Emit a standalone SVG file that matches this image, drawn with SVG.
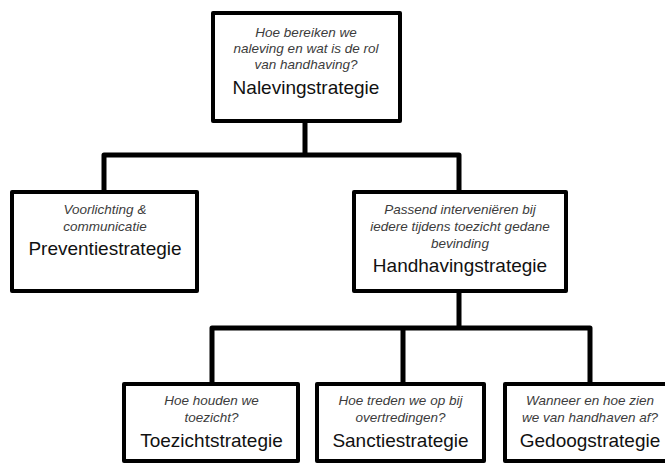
<svg xmlns="http://www.w3.org/2000/svg" width="665" height="464" viewBox="0 0 665 464">
<style>
.box{fill:#fff;stroke:#000;stroke-width:4;stroke-linejoin:round}
.q{font-family:"Liberation Sans",Arial,sans-serif;font-style:italic;font-size:13.5px;fill:#3c3c3c;text-anchor:middle}
.t{font-family:"Liberation Sans",Arial,sans-serif;font-size:19px;fill:#111;text-anchor:middle}
.c{fill:none;stroke:#000;stroke-width:5;stroke-linejoin:round}
</style>
<rect width="665" height="464" fill="#fff"/>
<g id="connectors">
<path class="c" d="M305,121 V155 M104,192 V155 H459 V192"/>
<path class="c" d="M459,291 V328 M212,384 V328 H590 V384 M403,328 V384"/>
</g>
<g id="naleving">
<rect class="box" x="213" y="13" width="187" height="108"/>
<text class="q" x="306" y="36.5">Hoe bereiken we</text>
<text class="q" x="306" y="52.5">naleving en wat is de rol</text>
<text class="q" x="306" y="68.5">van handhaving?</text>
<text class="t" x="306" y="94">Nalevingstrategie</text>
</g>
<g id="preventie">
<rect class="box" x="12" y="192" width="185" height="99"/>
<text class="q" x="105" y="214">Voorlichting &amp;</text>
<text class="q" x="105" y="231">communicatie</text>
<text class="t" x="105" y="255">Preventiestrategie</text>
</g>
<g id="handhaving">
<rect class="box" x="354" y="192" width="212" height="99"/>
<text class="q" x="460" y="214">Passend interveniëren bij</text>
<text class="q" x="460" y="231">iedere tijdens toezicht gedane</text>
<text class="q" x="460" y="248">bevinding</text>
<text class="t" x="460" y="272">Handhavingstrategie</text>
</g>
<g id="toezicht">
<rect class="box" x="124" y="384" width="174" height="77"/>
<text class="q" x="211.5" y="405">Hoe houden we</text>
<text class="q" x="211.5" y="422">toezicht?</text>
<text class="t" x="211.5" y="447">Toezichtstrategie</text>
</g>
<g id="sanctie">
<rect class="box" x="317" y="384" width="167" height="77"/>
<text class="q" x="400.5" y="405">Hoe treden we op bij</text>
<text class="q" x="400.5" y="422">overtredingen?</text>
<text class="t" x="400.5" y="447">Sanctiestrategie</text>
</g>
<g id="gedoog">
<rect class="box" x="505" y="384" width="170" height="77"/>
<text class="q" x="590" y="405">Wanneer en hoe zien</text>
<text class="q" x="590" y="422">we van handhaven af?</text>
<text class="t" x="590" y="447">Gedoogstrategie</text>
</g>
</svg>
